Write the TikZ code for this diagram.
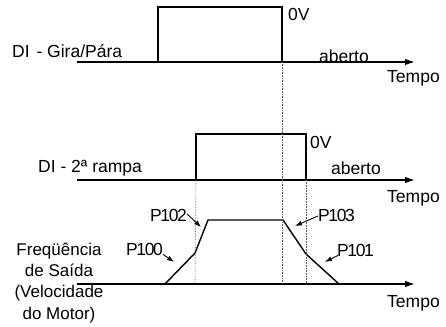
\documentclass[tikz,border=0pt]{standalone}
\usepackage{fontspec}
\setmainfont{Liberation Sans}
\usetikzlibrary{arrows.meta}
\newfontfamily\tightfont[LetterSpace=-8]{Liberation Sans}
\begin{document}
\begin{tikzpicture}[x=1pt,y=-1pt,
  sig/.style={line width=1.4pt,line join=miter},
  axis/.style={line width=1.4pt,-{Latex[length=10pt,width=6.5pt]}},
  guide/.style={densely dotted,line width=0.6pt,gray!70!black},
  lbl/.style={inner sep=0pt,font=\fontsize{17.5}{21.5}\selectfont},
  flbl/.style={inner sep=0pt,font=\fontsize{17}{21.3}\selectfont},
  plbl/.style={inner sep=0pt,font=\fontsize{17.5}{21}\selectfont\tightfont},
  parr/.style={line width=0.9pt,-{Latex[length=7pt,width=5pt]}}]
\useasboundingbox (0,0) rectangle (446,326);
% signal 1
\coordinate (a0) at (77,62);
\coordinate (a1) at (158,62);
\coordinate (a2) at (158,7);
\coordinate (a3) at (282,7);
\coordinate (a4) at (282,62);
\coordinate (aend) at (415,62);
\draw[sig] (a0) -- (a1) -- (a2) -- (a3) -- (a4);
\draw[axis] (a0) -- (aend);
% signal 2
\coordinate (b0) at (77,180);
\coordinate (b1) at (196,180);
\coordinate (b2) at (196,134);
\coordinate (b3) at (306,134);
\coordinate (b4) at (306,180);
\coordinate (bend) at (415,180);
\draw[sig] (b0) -- (b1) -- (b2) -- (b3) -- (b4);
\draw[axis] (b0) -- (bend);
% frequency
\coordinate (c0) at (77,284);
\coordinate (c1) at (165,284);
\coordinate (c2) at (195,253);
\coordinate (c3) at (208,220);
\coordinate (c4) at (283,220);
\coordinate (c5) at (306,254);
\coordinate (c6) at (339,284);
\coordinate (cend) at (415,284);
\draw[sig] (c0) -- (c1) -- (c2) -- (c3) -- (c4) -- (c5) -- (c6);
\draw[axis] (c0) -- (cend);
% guides
\coordinate (g1) at (195,284);
\coordinate (g2) at (282,284);
\coordinate (g3) at (306,284);
\draw[guide] (b1) -- (g1);
\draw[guide] (a4) -- (g2);
\draw[guide] (b4) -- (g3);
% texts
\node[lbl,anchor=base west] (t1) at (12,58) {DI\hspace{2pt} - Gira/Pára};
\node[lbl,anchor=base west] (v1) at (288,21) {0V};
\node[lbl,anchor=base west] (o1) at (319,63) {aberto};
\node[lbl,anchor=base west] (e1) at (387,83) {Tempo};
\node[lbl,anchor=base west] (t2) at (38,172) {DI - 2ª rampa};
\node[lbl,anchor=base west] (v2) at (310,148) {0V};
\node[lbl,anchor=base west] (o2) at (331,174) {aberto};
\node[lbl,anchor=base west] (e2) at (387,202) {Tempo};
\node[lbl,anchor=base west] (e3) at (387,307) {Tempo};
\node[flbl,align=center,anchor=base] (f) at (59,319) {Freqüência\\de Saída\\(Velocidade\\do Motor)};
% P labels
\node[plbl,anchor=base west] (p102) at (150,221) {P102};
\node[plbl,anchor=base west] (p100) at (126,255) {P100};
\node[plbl,anchor=base west] (p103) at (318,221) {P103};
\node[plbl,anchor=base west] (p101) at (337,256) {P101};
\coordinate (p102t) at (201,227);
\coordinate (p100t) at (174,262);
\coordinate (p103t) at (295,226);
\coordinate (p101t) at (325,262);
\draw[parr] (p102.east) ++(0,-1) -- (p102t);
\draw[parr] (p100.south east) ++(0,-1) -- (p100t);
\draw[parr] (p103.west) ++(0,1) -- (p103t);
\draw[parr] (p101.south west) ++(1,-1) -- (p101t);
\end{tikzpicture}
\end{document}
